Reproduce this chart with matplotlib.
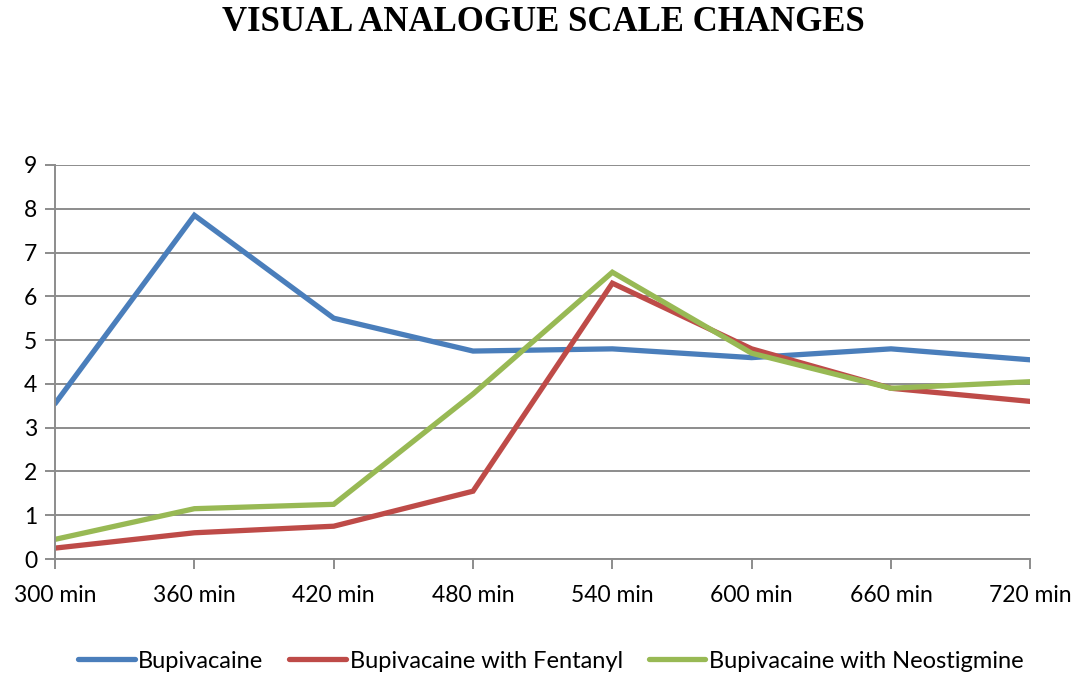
import matplotlib
matplotlib.use("Agg")
import matplotlib.pyplot as plt

categories = ["300 min", "360 min", "420 min", "480 min", "540 min", "600 min", "660 min", "720 min"]
bupivacaine = [3.55, 7.85, 5.5, 4.75, 4.8, 4.6, 4.8, 4.55]
bupi_fentanyl = [0.25, 0.6, 0.75, 1.55, 6.3, 4.8, 3.9, 3.6]
bupi_neostigmine = [0.45, 1.15, 1.25, 3.77, 6.55, 4.7, 3.9, 4.05]
series_names = ["Bupivacaine", "Bupivacaine with Fentanyl", "Bupivacaine with Neostigmine"]
y_ticks = list(range(0, 10))

fig = plt.figure(figsize=(10.8, 6.76), dpi=100)
ax = fig.add_axes([0.051, 0.173, 0.903, 0.583])

x = list(range(len(categories)))
colors = ["#4A7EBB", "#BE4B48", "#98B954"]
for vals, name, c in zip([bupivacaine, bupi_fentanyl, bupi_neostigmine], series_names, colors):
    ax.plot(x, vals, color=c, linewidth=3.8, label=name, solid_joinstyle="miter", solid_capstyle="round")

ax.set_xlim(0, len(categories) - 1)
ax.set_ylim(0, 9)
ax.set_yticks(y_ticks)
ax.set_xticks(x)
ax.set_xticklabels(categories)
ax.yaxis.grid(True, color="#8C8C8C", linewidth=1.4)
ax.set_axisbelow(True)
for s in ["top", "right"]:
    ax.spines[s].set_visible(False)
for s in ["left", "bottom"]:
    ax.spines[s].set_color("#8C8C8C")
    ax.spines[s].set_linewidth(1.4)
ax.tick_params(axis="both", color="#8C8C8C", width=1.4, length=7, labelsize=16.5)
ax.tick_params(axis="x", pad=12)
ax.tick_params(axis="y", pad=6)
for lab in ax.get_xticklabels() + ax.get_yticklabels():
    lab.set_fontfamily("Lato")

fig.text(0.503, 0.967, "VISUAL ANALOGUE SCALE CHANGES", ha="center", va="center",
         fontsize=25, fontweight="bold", family="Liberation Serif")

leg = ax.legend(loc="center", ncol=3, frameon=False,
                prop={"family": "Lato", "size": 17}, handlelength=2.4, handletextpad=0.15, columnspacing=1.1)
leg.set_bbox_to_anchor((0.51, 1 - 661 / 676), transform=fig.transFigure)

fig.savefig("out.png", dpi=100)
